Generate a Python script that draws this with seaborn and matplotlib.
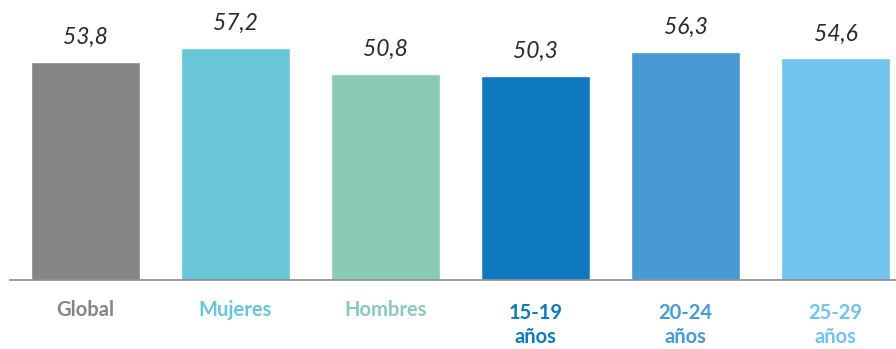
import matplotlib
matplotlib.use("Agg")
import numpy as np
import pandas as pd
import matplotlib.pyplot as plt
import seaborn as sns

# Data
categories = ['Global', 'Mujeres', 'Hombres', '15-19\naños', '20-24\naños', '25-29\naños']
values = [53.8, 57.2, 50.8, 50.3, 56.3, 54.6]
colors = ['#858585', '#69C6D8', '#8ACBB8', '#0E79BE', '#479AD4', '#72C3EE']

df = pd.DataFrame({'Categoria': categories, 'Valor': values})

sns.set_theme(style="white")
plt.rcParams['font.family'] = ['Lato', 'DejaVu Sans']

fig = plt.figure(figsize=(8.96, 3.49), dpi=100)
ax = fig.add_axes([10 / 896, 69 / 349, 886 / 896, 280 / 349])

sns.barplot(data=df, x='Categoria', y='Valor', hue='Categoria',
            palette=colors, legend=False, width=0.727, saturation=1,
            ax=ax)

ax.set_xlim(-0.503, 5.403)
ax.set_ylim(0, 69)

# value labels
for i, v in enumerate(values):
    ax.annotate(f"{v:.1f}".replace('.', ','), (i, v), xytext=(0, 10),
                textcoords='offset points', ha='center', va='bottom',
                fontsize=16.5, style='italic', color='#2b2b2b')

# category labels below baseline, coloured like bars
ax.set_xticks([])
ax.set_xlabel('')
ax.set_ylabel('')
ax.set_yticks([])
for i, (lab, c) in enumerate(zip(categories, colors)):
    y = -30 if '\n' not in lab else -45
    ax.annotate(lab, (i, 0), xytext=(0, y), textcoords='offset pixels',
                ha='center', va='center', fontsize=14.5, fontweight='bold',
                color=c, linespacing=1.3, annotation_clip=False)

for s in ['top', 'right', 'left']:
    ax.spines[s].set_visible(False)
ax.spines['bottom'].set_color('#8c8c8c')
ax.spines['bottom'].set_linewidth(1.2)

fig.savefig('out.png', dpi=100)
